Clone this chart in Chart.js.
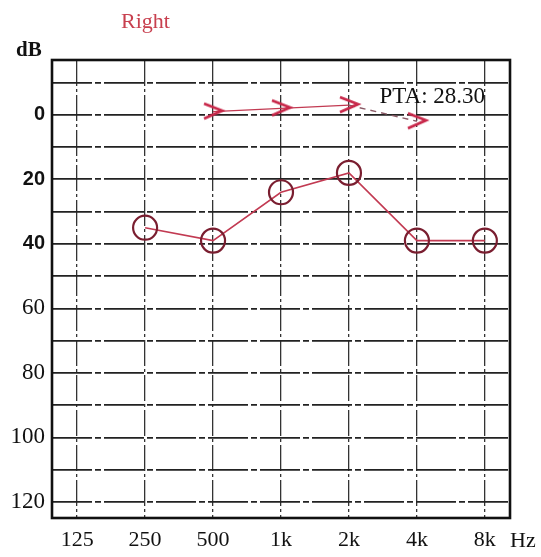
<!DOCTYPE html>
<html>
<head>
<meta charset="utf-8">
<script src="https://cdn.jsdelivr.net/npm/chart.js@4"></script>
<style>
  html, body { margin: 0; padding: 0; background: #fff; }
  #wrap { width: 541px; height: 557px; }
</style>
</head>
<body>
<div id="wrap"><canvas id="audiograma" width="541" height="557"></canvas></div>
<script>
// frecuencias (posicion en octavas desde 125 Hz)
const frecuencias = ["125", "250", "500", "1k", "2k", "4k", "8k"];
const octavas = [0, 1, 2, 3, 4, 5, 6];

// conduccion aerea (circulos) 250..8k
const aereaX = [1, 2, 3, 4, 5, 6];
const aereaDb = [35, 39, 24, 18, 39, 39];

// conduccion osea (>) 500..4k
const oseaX = [2, 3, 4, 5];
const oseaDb = [-1, -2, -3, 2];

const dbTicks = [-10, 0, 10, 20, 30, 40, 50, 60, 70, 80, 90, 100, 110, 120];
const pta = "PTA: 28.30";

const rojo = "#c23a52";
const granate = "#7a1e30";

// simbolo ">" para la via osea
const flecha = document.createElement("canvas");
flecha.width = 26;
flecha.height = 22;
const fc = flecha.getContext("2d");
fc.strokeStyle = "#c8284a";
fc.lineWidth = 2.8;
fc.lineJoin = "miter";
fc.beginPath();
fc.moveTo(4, 3);
fc.lineTo(22, 10);
fc.lineTo(4, 18);
fc.stroke();

const textos = {
    id: "textos",
    afterDraw(chart) {
        const ctx = chart.ctx;
        const a = chart.chartArea;
        const xs = chart.scales.x, ys = chart.scales.y;
        ctx.save();
        // marco
        ctx.strokeStyle = "#111";
        ctx.lineWidth = 2.6;
        ctx.strokeRect(a.left, a.top, a.right - a.left, a.bottom - a.top);

        ctx.textBaseline = "middle";
        ctx.fillStyle = "#c8404f";
        ctx.font = "22px 'Liberation Serif'";
        ctx.fillText("Right", 121, 22);

        ctx.fillStyle = "#111";
        ctx.font = "bold 21px 'Liberation Serif'";
        ctx.fillText("dB", 16, 51);
        ctx.font = "22px 'Liberation Serif'";
        ctx.fillText("Hz", 510, 541);

        ctx.font = "23px 'Liberation Serif'";
        ctx.fillText(pta, xs.getPixelForValue(4.45), ys.getPixelForValue(-5.6));
        ctx.restore();
    }
};

new Chart(document.getElementById("audiograma"), {
    type: "line",
    data: {
        datasets: [
            {
                label: "osea",
                data: oseaX.map((x, i) => ({ x: x, y: oseaDb[i] })),
                borderColor: rojo,
                borderWidth: 1.4,
                pointStyle: flecha,
                pointRadius: 11,
                segment: {
                    borderDash: c => c.p0DataIndex === 2 ? [6, 5] : undefined,
                    borderColor: c => c.p0DataIndex === 2 ? "#8a5a66" : undefined
                }
            },
            {
                label: "aerea",
                data: aereaX.map((x, i) => ({ x: x, y: aereaDb[i] })),
                borderColor: rojo,
                borderWidth: 1.6,
                pointStyle: "circle",
                pointRadius: 12,
                pointBorderWidth: 2.2,
                pointBorderColor: granate,
                pointBackgroundColor: "rgba(0,0,0,0)"
            }
        ]
    },
    options: {
        responsive: false,
        animation: false,
        layout: { padding: { top: 60, right: 31, left: 0, bottom: 0 } },
        plugins: {
            legend: { display: false },
            tooltip: { enabled: false }
        },
        scales: {
            x: {
                type: "linear",
                min: -0.37,
                max: 6.37,
                afterBuildTicks: s => { s.ticks = octavas.map(v => ({ value: v })); },
                afterFit: s => { s.height = 39; },
                ticks: {
                    callback: v => frecuencias[v],
                    padding: 9,
                    color: "#111",
                    font: { family: "'Liberation Serif'", size: 22 }
                },
                grid: { color: "#333", lineWidth: 1.3, drawTicks: false },
                border: { display: false, dash: [26, 3, 3, 3] }
            },
            y: {
                type: "linear",
                reverse: true,
                min: -17,
                max: 125,
                afterBuildTicks: s => { s.ticks = dbTicks.map(v => ({ value: v })); },
                afterFit: s => { s.width = 52; },
                ticks: {
                    callback: v => (v % 20 === 0 && v >= 0) ? String(v) : "",
                    padding: 7,
                    color: "#111",
                    font: c => (c.tick && c.tick.value <= 40)
                        ? { family: "'Liberation Sans'", size: 20, weight: "bold" }
                        : { family: "'Liberation Serif'", size: 23 }
                },
                grid: { color: "#222", lineWidth: 1.7, drawTicks: false },
                border: { display: false, dash: [40, 3, 6, 3] }
            }
        }
    },
    plugins: [textos]
});
</script>
</body>
</html>
